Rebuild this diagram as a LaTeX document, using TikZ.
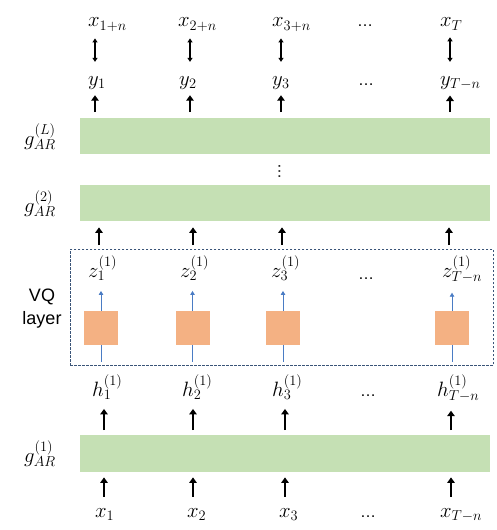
\documentclass[tikz,border=0pt]{standalone}
\usepackage{fontspec}
\newfontfamily\vqfont{Liberation Sans}
\usetikzlibrary{arrows.meta,calc}
\definecolor{barGreen}{HTML}{C5E0B4}
\definecolor{sqOrange}{HTML}{F4B183}
\definecolor{arrBlue}{HTML}{4A7CC4}
\definecolor{boxBlue}{HTML}{3A5478}
\begin{document}
\begin{tikzpicture}[x=1pt,y=-1pt,
  lab/.style={inner sep=0pt,anchor=base west,font=\fontsize{21}{25}\selectfont},
  dotlab/.style={inner sep=0pt,anchor=base,font=\vqfont\fontsize{16}{20}\selectfont},
  bar/.style={fill=barGreen,draw=none,inner sep=0pt,anchor=north west,minimum width=410pt},
  sq/.style={fill=sqOrange,draw=none,inner sep=0pt,minimum size=34pt},
  uparr/.style={line width=2.6pt,-{Triangle[length=5.5pt,width=7.5pt]}},
  dblarr/.style={line width=1.3pt,{Triangle[length=4pt,width=5pt]}-{Triangle[length=4pt,width=5pt]}},
  bluearr/.style={line width=0.8pt,draw=arrBlue,-{Triangle[length=4pt,width=4.5pt]}},
  blueline/.style={line width=0.8pt,draw=arrBlue},
  frame/.style={draw=boxBlue,line width=0.8pt,dash pattern=on 2.5pt off 1.5pt,inner sep=0pt,anchor=north west}
]
\useasboundingbox (0,0) rectangle (496,530);

% columns
\coordinate (t1) at (95,0);  \coordinate (t2) at (190,0); \coordinate (t3) at (281,0); \coordinate (t4) at (450,0);
\coordinate (m1) at (99,0);  \coordinate (m2) at (193,0); \coordinate (m3) at (282,0); \coordinate (m4) at (449,0);
\coordinate (b1) at (104,0); \coordinate (b2) at (193,0); \coordinate (b3) at (285,0); \coordinate (b4) at (451,0);

% bars
\node[bar,minimum height=36pt] (barL) at (80,118) {};
\node[bar,minimum height=36pt] (bar2) at (80,185) {};
\node[bar,minimum height=37pt] (bar1) at (80,435) {};

% left labels
\node[lab] (gL) at (24,145) {$g_{AR}^{(L)}$};
\node[lab] (g2) at (24,212) {$g_{AR}^{(2)}$};
\node[lab] (g1) at (24,462) {$g_{AR}^{(1)}$};
\node[inner sep=0pt,font=\vqfont\fontsize{18}{21}\selectfont,align=center] (vql) at (42,309) {VQ\\[2pt]layer};

% top x row
\node[lab] (xa) at (88,27)  {$x_{1+n}$};
\node[lab] (xb) at (178,27) {$x_{2+n}$};
\node[lab] (xc) at (272,27) {$x_{3+n}$};
\node[dotlab] (xd) at (365,27) {…};
\node[lab] (xe) at (440,27) {$x_T$};

% y row
\node[lab] (ya) at (88,85)  {$y_1$};
\node[lab] (yb) at (179,85) {$y_2$};
\node[lab] (yc) at (272,85) {$y_3$};
\node[dotlab] (yd) at (366,85) {…};
\node[lab] (ye) at (440,85) {$y_{T-n}$};

% double arrows
\foreach \c/\a/\b in {t1/xa/ya,t2/xb/yb,t3/xc/yc,t4/xe/ye}
  \draw[dblarr,shorten <=7pt,shorten >=14pt] (\c |- \a.south) -- (\c |- \b.north);

% y arrows
\foreach \c/\b in {t1/ya,t2/yb,t3/yc,t4/ye}
  \draw[uparr,shorten <=6pt,shorten >=6pt] (\c |- barL.north) -- (\c |- \b.south);

% vertical dots
\node[inner sep=0pt,rotate=-90,font=\vqfont\fontsize{16}{20}\selectfont] (vd) at (279.5,171) {…};

% VQ frame
\node[frame,minimum width=423pt,minimum height=116pt] (vqbox) at (70,249) {};

% arrows into bar2
\foreach \c in {m1,m2,m3,m4}
  \draw[uparr,shorten <=4pt,shorten >=6pt] (\c |- vqbox.north) -- (\c |- bar2.south);

% squares
\node[sq] (s1) at (101,328) {};
\node[sq] (s2) at (192.5,328) {};
\node[sq] (s3) at (283,328) {};
\node[sq] (s4) at (452,328) {};

% z row
\node[lab] (za) at (88,277)  {$z_1^{(1)}$};
\node[lab] (zb) at (180,277) {$z_2^{(1)}$};
\node[lab] (zc) at (271,277) {$z_3^{(1)}$};
\node[dotlab] (zd) at (366,279) {…};
\node[lab] (ze) at (442,277) {$z_{T-n}^{(1)}$};

\foreach \s/\z in {s1/za,s2/zb,s3/zc,s4/ze}{
  \draw[bluearr,shorten >=10pt] (\s.north) -- (\s.north |- \z.south);
  \draw[blueline,shorten >=4pt] (\s.south) -- (\s.south |- vqbox.south);
}

% h row
\node[lab] (ha) at (92,396)  {$h_1^{(1)}$};
\node[lab] (hb) at (182,396) {$h_2^{(1)}$};
\node[lab] (hc) at (272,396) {$h_3^{(1)}$};
\node[dotlab] (hd) at (368,396) {…};
\node[lab] (he) at (437,396) {$h_{T-n}^{(1)}$};

\foreach \c/\h in {b1/ha,b2/hb,b3/hc,b4/he}
  \draw[uparr,shorten <=5pt,shorten >=9pt] (\c |- bar1.north) -- (\c |- \h.south);

% bottom x row
\node[lab] (xa1) at (95,517)  {$x_1$};
\node[lab] (xb1) at (187,517) {$x_2$};
\node[lab] (xc1) at (279,517) {$x_3$};
\node[dotlab] (xd1) at (368,517) {…};
\node[lab] (xe1) at (440,517) {$x_{T-n}$};

\foreach \c/\x in {b1/xa1,b2/xb1,b3/xc1,b4/xe1}
  \draw[uparr,shorten <=11pt,shorten >=5pt] (\c |- \x.north) -- (\c |- bar1.south);

\end{tikzpicture}
\end{document}
